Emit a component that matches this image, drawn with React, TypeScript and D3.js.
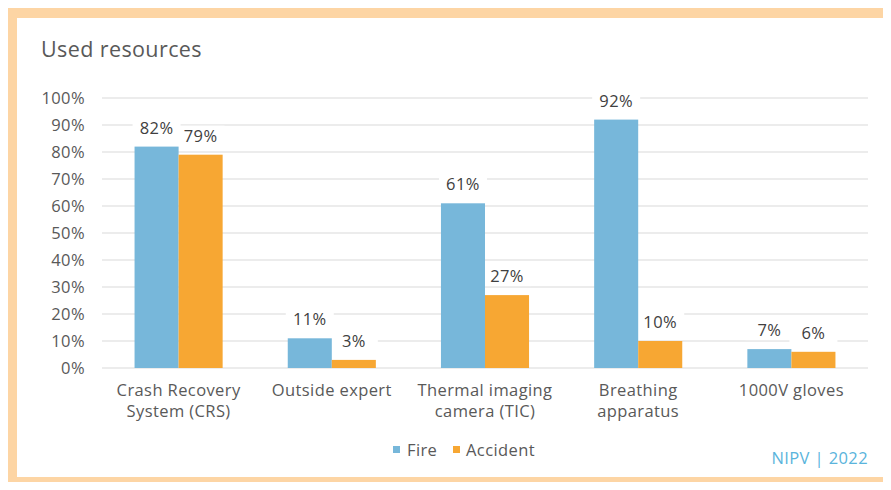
import React from "react";
import * as d3 from "d3";

const categories: string[][] = [
  ["Crash Recovery", "System (CRS)"],
  ["Outside expert"],
  ["Thermal imaging", "camera (TIC)"],
  ["Breathing", "apparatus"],
  ["1000V gloves"],
];
const fireValues = [82, 11, 61, 92, 7];
const accidentValues = [79, 3, 27, 10, 6];
const seriesNames = ["Fire", "Accident"];
const yTicks = [0, 10, 20, 30, 40, 50, 60, 70, 80, 90, 100];

const W = 891;
const H = 490;
const FONT = "'Open Sans', sans-serif";
const LS = 0.4;
const colors = ["#77B7DA", "#F7A733"];

export default function App() {
  const left = 102, right = 868, top = 98, bottom = 368;
  const x = d3.scaleBand<number>()
    .domain(d3.range(categories.length))
    .range([left, right])
    .paddingInner(0.425)
    .paddingOuter(0.2125);
  const sub = d3.scaleBand<number>().domain([0, 1]).range([0, x.bandwidth()]);
  const y = d3.scaleLinear().domain([0, 100]).range([bottom, top]);
  const series = [fireValues, accidentValues];

  const pos = (si: number, i: number) => {
    const bx = (x(i) as number) + (sub(si) as number);
    const bw = sub.bandwidth();
    return { bx, bw, cx: bx + bw / 2 };
  };

  return (
    <svg width={W} height={H} style={{ display: "block", margin: "-8px" }}>
      <rect x={0} y={0} width={W} height={H} fill="#FDD5A4" />
      <rect x={17} y={18} width={868} height={459} fill="#FFFFFF" />
      <text x={41} y={57} fontFamily={FONT} fontSize={21.5} letterSpacing={LS} fill="#595959">Used resources</text>
      {yTicks.map((t) => (
        <g key={t}>
          <line x1={left} x2={right} y1={y(t)} y2={y(t)} stroke="#D9D9D9" strokeWidth={1} />
          <text x={85} y={y(t) + 6} textAnchor="end" fontFamily={FONT} fontSize={16.5} letterSpacing={LS} fill="#595959">{t}%</text>
        </g>
      ))}
      {series.map((vals, si) =>
        vals.map((v, i) => {
          const { cx } = pos(si, i);
          return <rect key={`bg${si}-${i}`} x={cx - 24} y={y(v) - 29} width={48} height={20} fill="#FFFFFF" />;
        })
      )}
      {series.map((vals, si) =>
        vals.map((v, i) => {
          const { bx, bw } = pos(si, i);
          return <rect key={`b${si}-${i}`} x={bx} y={y(v)} width={bw} height={bottom - y(v)} fill={colors[si]} />;
        })
      )}
      {series.map((vals, si) =>
        vals.map((v, i) => {
          const { cx } = pos(si, i);
          return (
            <text key={`l${si}-${i}`} x={cx} y={y(v) - 13} textAnchor="middle" fontFamily={FONT} fontSize={16.5} letterSpacing={LS} fill="#404040">{v}%</text>
          );
        })
      )}
      {categories.map((lines, i) => {
        const cx = (x(i) as number) + x.bandwidth() / 2;
        return (
          <text key={`c${i}`} textAnchor="middle" fontFamily={FONT} fontSize={16.5} letterSpacing={LS} fill="#595959">
            {lines.map((l, j) => (
              <tspan key={j} x={cx} y={396 + j * 21}>{l}</tspan>
            ))}
          </text>
        );
      })}
      <g>
        <rect x={393} y={446} width={7} height={7} fill={colors[0]} />
        <text x={407} y={456} fontFamily={FONT} fontSize={16.5} letterSpacing={LS} fill="#595959">{seriesNames[0]}</text>
        <rect x={453} y={446} width={7} height={7} fill={colors[1]} />
        <text x={466} y={456} fontFamily={FONT} fontSize={16.5} letterSpacing={LS} fill="#595959">{seriesNames[1]}</text>
      </g>
      <text x={868} y={464} textAnchor="end" fontFamily={FONT} fontSize={16.5} letterSpacing={LS} fill="#5AB4DC">NIPV | 2022</text>
    </svg>
  );
}
